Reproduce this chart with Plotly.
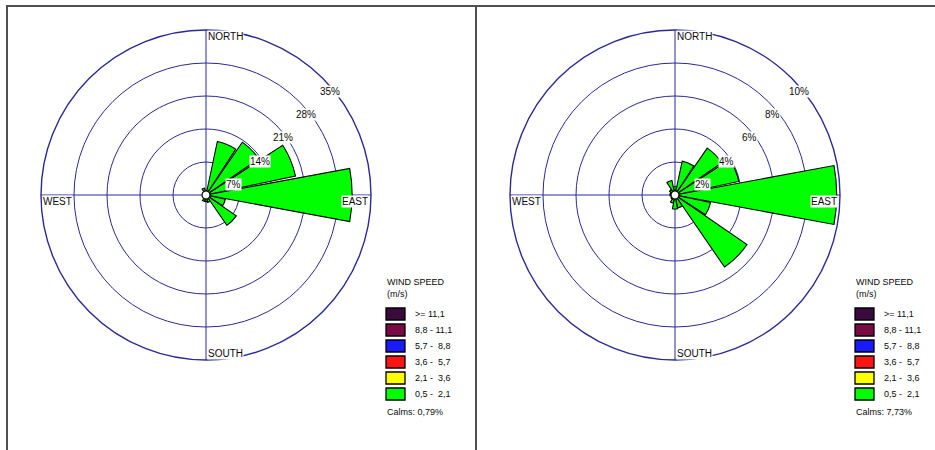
import plotly.graph_objects as go
import math

# ---------------- data ----------------
directions = ["N", "NNE", "NE", "ENE", "E", "ESE", "SE", "SSE",
              "S", "SSW", "SW", "WSW", "W", "WNW", "NW", "NNW"]
left_green = [1.0, 11.6, 13.6, 19.4, 31.0, 4.2, 7.8, 1.6,
              1.4, 1.4, 0.5, 0.3, 0.4, 0.5, 0.8, 1.5]
right_green = [0.5, 2.1, 3.45, 3.95, 9.8, 2.2, 5.3, 0.8,
               0.85, 0.5, 0.3, 0.2, 0.3, 0.3, 0.4, 0.9]
left_rings = [7, 14, 21, 28, 35]
right_rings = [2, 4, 6, 8, 10]
left_calms = "Calms: 0,79%"
right_calms = "Calms: 7,73%"
speed_classes = [">= 11,1", "8,8 - 11,1", "5,7 -  8,8", "3,6 -  5,7", "2,1 -  3,6", "0,5 -  2,1"]
class_colors = ["#3a0a3c", "#7a0a45", "#1a1aff", "#ff1414", "#ffff00", "#00ff00"]

# ---------------- layout geometry ----------------
W, H = 935, 450
R = 165
CY = 195
panels = [
    dict(cx=206, rings=left_rings, green=left_green, calms=left_calms, polar="polar"),
    dict(cx=675, rings=right_rings, green=right_green, calms=right_calms, polar="polar2"),
]
GRID = "#2a2a96"
FONT = "Liberation Sans, Arial, sans-serif"
TXT = "#0a0a0a"
thetas = [i * 360 / len(directions) for i in range(len(directions))]


def px(x):
    return x / W


def py(y):
    return 1 - y / H


fig = go.Figure()
annotations = []
shapes = []

for p in panels:
    cx = p["cx"]
    fig.add_trace(go.Barpolar(
        r=p["green"], theta=thetas, width=21, customdata=directions,
        marker=dict(color="#00ff00", line=dict(color="black", width=1.1)),
        subplot=p["polar"], showlegend=False,
        hovertemplate="%{customdata}: %{r}%<extra></extra>"))
    # calm circle
    fig.add_trace(go.Scatterpolar(
        r=[0], theta=[0], mode="markers", subplot=p["polar"], showlegend=False,
        marker=dict(size=8, color="white", line=dict(color="black", width=1.2)),
        hoverinfo="skip"))

    rmax = p["rings"][-1]
    fig.update_layout(**{p["polar"]: dict(
        domain=dict(x=[px(cx - R), px(cx + R)], y=[py(CY + R), py(CY - R)]),
        bgcolor="white",
        radialaxis=dict(range=[0, rmax], tickvals=p["rings"], showticklabels=False,
                        ticks="", showline=False, gridcolor=GRID, gridwidth=1.4),
        angularaxis=dict(rotation=90, direction="clockwise", tickmode="array",
                         tickvals=[0, 90, 180, 270], showticklabels=False, ticks="",
                         gridcolor=GRID, gridwidth=1.4, linecolor=GRID, linewidth=1.4,
                         showline=True),
    )})

    # ring percentage labels along 45 degrees
    for v in p["rings"]:
        rr = v / rmax * R
        x = cx + rr * math.sin(math.radians(45))
        y = CY - rr * math.cos(math.radians(45))
        annotations.append(dict(
            x=px(x), y=py(y), xref="paper", yref="paper", text=f"{v}%",
            xanchor="left", yanchor="middle", xshift=-4, yshift=-13,
            showarrow=False, bgcolor="white", borderpad=0,
            font=dict(family=FONT, size=10, color=TXT)))

    # cardinal labels
    card = [
        dict(x=px(cx), y=py(CY - R), xanchor="left", yanchor="top", xshift=1,
             text="NORTH"),
        dict(x=px(cx + R), y=py(CY), xanchor="right", yanchor="top", xshift=-2,
             text="EAST"),
        dict(x=px(cx), y=py(CY + R), xanchor="left", yanchor="bottom", xshift=1,
             text="SOUTH"),
        dict(x=px(cx - R), y=py(CY), xanchor="left", yanchor="top", xshift=1,
             text="WEST"),
    ]
    for a in card:
        a.update(xref="paper", yref="paper", showarrow=False, bgcolor="white",
                 borderpad=0, font=dict(family=FONT, size=10, color=TXT))
    annotations += card

    # legend (manual)
    lx = cx + 180
    annotations.append(dict(x=px(lx - 1), y=py(282), xref="paper", yref="paper",
                            text="WIND SPEED", xanchor="left", yanchor="middle",
                            showarrow=False, font=dict(family=FONT, size=9, color=TXT)))
    annotations.append(dict(x=px(lx - 1), y=py(294), xref="paper", yref="paper",
                            text="(m/s)", xanchor="left", yanchor="middle",
                            showarrow=False, font=dict(family=FONT, size=9, color=TXT)))
    for i, (lab, col) in enumerate(zip(speed_classes, class_colors)):
        yc = 314 + i * 16
        shapes.append(dict(type="rect", xref="paper", yref="paper",
                           x0=px(lx), x1=px(lx + 19), y0=py(yc + 6), y1=py(yc - 6),
                           fillcolor=col, line=dict(color="black", width=1.3)))
        annotations.append(dict(x=px(lx + 27), y=py(yc), xref="paper", yref="paper",
                                text=lab, xanchor="left", yanchor="middle",
                                showarrow=False,
                                font=dict(family=FONT, size=9, color=TXT)))
    annotations.append(dict(x=px(lx - 1), y=py(412), xref="paper", yref="paper",
                            text=p["calms"], xanchor="left", yanchor="middle",
                            showarrow=False, font=dict(family=FONT, size=9, color=TXT)))

# panel frames
shapes.append(dict(type="rect", xref="paper", yref="paper", x0=px(7), x1=px(476),
                   y0=py(470), y1=py(6), line=dict(color="#505050", width=2),
                   fillcolor="rgba(0,0,0,0)", layer="below"))
shapes.append(dict(type="rect", xref="paper", yref="paper", x0=px(476), x1=px(960),
                   y0=py(470), y1=py(6), line=dict(color="#505050", width=2),
                   fillcolor="rgba(0,0,0,0)", layer="below"))

fig.update_layout(
    width=W, height=H, margin=dict(l=0, r=0, t=0, b=0),
    paper_bgcolor="white", plot_bgcolor="white", showlegend=False,
    annotations=annotations, shapes=shapes,
    font=dict(family=FONT),
)

fig.write_html("out.html")
